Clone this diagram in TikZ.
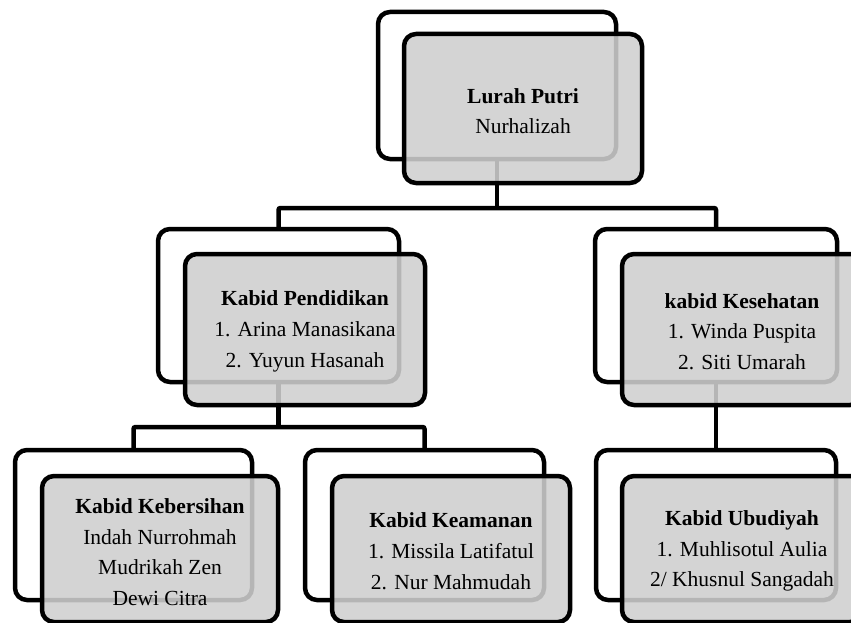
\documentclass[tikz,border=0pt]{standalone}
\usepackage{fontspec}
\setmainfont{Liberation Serif}
\tikzset{
  backbox/.style={draw=black, line width=4.5pt, rounded corners=12pt, fill=white,
    inner sep=0pt, outer sep=0pt},
  frontbox/.style={draw=black, line width=4.5pt, rounded corners=12pt, fill=black!19,
    fill opacity=0.88, draw opacity=1, inner sep=0pt, outer sep=0pt},
  boxtext/.style={inner sep=0pt, align=center, text=black,
    font=\fontsize{21.5}{30.7}\selectfont},
  conn/.style={draw=black, line width=4.5pt, rounded corners=2pt}
}
\begin{document}
\begin{tikzpicture}[x=1pt,y=-1pt]
\useasboundingbox (0,0) rectangle (851,623);
\clip (0,0) rectangle (851,623);
% back boxes
\node[backbox, minimum width=238pt, minimum height=147pt] (lb) at (497,85.5) {};
\node[backbox, minimum width=241pt, minimum height=153pt] (pb) at (278.5,305.5) {};
\node[backbox, minimum width=242pt, minimum height=153pt] (kb) at (716,305.5) {};
\node[backbox, minimum width=237pt, minimum height=150pt] (bb) at (133.5,525) {};
\node[backbox, minimum width=239pt, minimum height=150pt] (mb) at (424.5,525) {};
\node[backbox, minimum width=240pt, minimum height=150pt] (ub) at (716,525) {};
% connectors
\coordinate (j1) at (497,208);
\coordinate (j2) at (278.5,427);
\draw[conn] (lb.south) -- (j1);
\draw[conn] (pb.north) |- (j1) -| (kb.north);
\draw[conn] (pb.south) -- (j2);
\draw[conn] (bb.north) |- (j2) -| (mb.north);
\draw[conn] (kb.south) -- (ub.north);
% front boxes
\node[frontbox, minimum width=238pt, minimum height=149pt] (lf) at (523,108.5) {};
\node[frontbox, minimum width=240pt, minimum height=151pt] (pf) at (305,329.5) {};
\node[frontbox, minimum width=240pt, minimum height=151pt] (kf) at (742,329.5) {};
\node[frontbox, minimum width=236pt, minimum height=146pt] (bf) at (160,549) {};
\node[frontbox, minimum width=238pt, minimum height=146pt] (mf) at (451,549) {};
\node[frontbox, minimum width=240pt, minimum height=146pt] (uf) at (742,549) {};
% texts
\node[boxtext] (lt) at ([yshift=-2.5pt]lf.center)
  {\textbf{Lurah Putri}\\Nurhalizah};
\node[boxtext] (pt) at ([yshift=-2pt]pf.center)
  {\textbf{Kabid Pendidikan}\\1. Arina Manasikana\\2. Yuyun Hasanah};
\node[boxtext] (kt) at ([yshift=-2pt]kf.center)
  {\textbf{kabid Kesehatan}\\1. Winda Puspita\\2. Siti Umarah};
\node[boxtext] (bt) at ([yshift=-3pt]bf.center)
  {\textbf{Kabid Kebersihan}\\Indah Nurrohmah\\Mudrikah Zen\\Dewi Citra};
\node[boxtext] (mt) at ([yshift=-2pt]mf.center)
  {\textbf{Kabid Keamanan}\\1. Missila Latifatul\\2. Nur Mahmudah};
\node[boxtext] (ut) at ([yshift=-2pt]uf.center)
  {\textbf{Kabid Ubudiyah}\\1. Muhlisotul Aulia\\2/ Khusnul Sangadah};
\end{tikzpicture}
\end{document}
